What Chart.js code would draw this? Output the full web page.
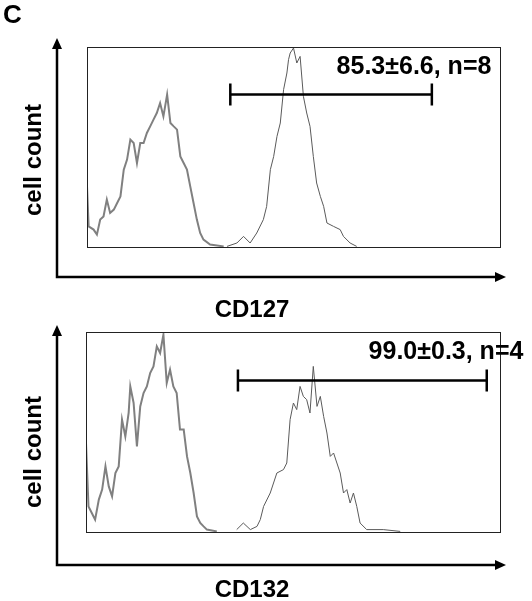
<!DOCTYPE html>
<html>
<head>
<meta charset="utf-8">
<script src="https://cdn.jsdelivr.net/npm/chart.js@4"></script>
<style>
  body { margin: 0; background: #fff; width: 532px; height: 601px; position: relative; overflow: hidden; }
  canvas { position: absolute; left: 0; }
</style>
</head>
<body>
<canvas id="top" width="532" height="325" style="top:0"></canvas>
<canvas id="bottom" width="532" height="301" style="top:300px"></canvas>
<script>
// CD127 panel: control (grey, thick) and stained (thin) histograms
const cd127CtrlX = [0,0.4,1.6,2.4,3.2,4.0,4.8,5.6,6.5,7.3,8.1,8.9,9.7,10.5,11.3,12.1,12.9,13.7,14.5,15.3,16.1,16.9,17.7,18.5,19.4,20.2,21.0,21.8,22.6,23.4,24.2,25.0,25.8,26.6,27.4,28.2,29.8,33.1];
const cd127CtrlY = [30.3,10.3,8.7,6.2,13.7,15.3,23.7,17,18.7,22,25.3,38.7,43.7,53.7,52,42,52,52,57,60.3,63.7,67,72,65.3,76.2,62,60.3,58.7,45.3,42,38.7,30.3,22,13.7,7,3.7,1.2,0.3];
const cd127StainX = [33.9,36.3,37.9,39.5,41.1,42.7,43.5,44.4,45.2,46.0,46.8,47.6,48.4,48.8,49.2,50.0,50.8,51.6,52.4,53.2,54.0,54.8,55.6,56.5,57.3,58.1,59.7,61.3,62.1,63.7,65.3];
const cd127StainY = [0.3,2,5.3,2,7,13.7,20.3,38.7,45.3,55.3,62,78.7,87,93.7,97,99.5,92,95.3,75.3,67,60.3,45.3,32,25.3,20.3,12,10.3,8.7,5.3,2,0.3];
const cd127Gate = [34.7, 83.5, 76.2];
const cd127Label = "85.3±6.6, n=8";

// CD132 panel
const cd132CtrlX = [0,0.6,1.4,2.2,3.1,3.9,4.7,5.5,6.3,7.1,7.9,8.7,9.5,10.3,10.7,11.5,12.3,13.1,13.9,14.7,15.5,16.3,17.1,17.9,18.7,19.5,20.3,21.1,21.9,22.7,23.6,24.4,25.2,26.0,26.8,27.6,28.4,29.2,31.6];
const cd132CtrlY = [44.5,12.8,9.5,6.2,16.2,21.2,32.8,22.8,17.8,29.5,32.8,56.2,47.8,59.5,72.8,64.5,42.8,62.8,69.5,72.8,79.5,82.8,92.8,89.5,98.7,74.5,81.2,72.8,69.5,51.2,51.2,37.8,29.5,19.5,7.8,4.5,2.8,1.2,0.3];
const cd132StainX = [36.4,38.0,39.7,41.3,42.1,42.9,44.5,46.1,47.7,48.5,49.3,50.1,50.9,51.7,52.5,53.3,54.1,54.9,55.8,56.6,57.4,58.2,59.0,59.8,60.6,61.4,62.2,63.0,63.8,64.6,65.4,66.2,67.8,71.8,75.9];
const cd132StainY = [1.2,4.5,1.2,2.8,6.2,12.8,19.5,29.5,31.2,34.5,56.2,64.5,61.2,72.8,67.8,66.2,59.5,82.8,62.8,67.8,57.8,49.5,37.8,39.5,34.5,29.5,19.5,21.2,14.5,19.5,12.8,4.5,1.2,1.2,0.3];
const cd132Gate = [36.7, 96.8, 75.8];
const cd132Label = "99.0±0.3, n=4";

const FAMILY = "'Liberation Sans', Arial, sans-serif";

function pts(xs, ys) { return xs.map((x, i) => ({ x: x, y: ys[i] })); }

function arrowHead(ctx, x, y, dir) {
  ctx.beginPath();
  if (dir === "up") { ctx.moveTo(x, y); ctx.lineTo(x - 5, y + 11); ctx.lineTo(x + 5, y + 11); }
  else { ctx.moveTo(x, y); ctx.lineTo(x - 11, y - 5); ctx.lineTo(x - 11, y + 5); }
  ctx.closePath();
  ctx.fill();
}

function makePanel(id, ctrlX, ctrlY, stainX, stainY, gate, label, cfg) {
  const decor = {
    id: "decor",
    afterDraw(chart) {
      const ctx = chart.ctx, a = chart.chartArea;
      const xs = chart.scales.x, ys = chart.scales.y;
      ctx.save();
      // plot box
      ctx.strokeStyle = "#222"; ctx.lineWidth = 1;
      ctx.strokeRect(a.left + 0.5, a.top + 0.5, a.right - a.left, a.bottom - a.top);
      // axis arrows
      ctx.strokeStyle = "#000"; ctx.fillStyle = "#000"; ctx.lineWidth = 2.5;
      ctx.beginPath();
      ctx.moveTo(57, cfg.axTop + 8); ctx.lineTo(57, cfg.axY); ctx.lineTo(cfg.axRight - 8, cfg.axY);
      ctx.stroke();
      arrowHead(ctx, 57, cfg.axTop, "up");
      arrowHead(ctx, cfg.axRight, cfg.axY, "right");
      // gate bar
      const gx1 = xs.getPixelForValue(gate[0]), gx2 = xs.getPixelForValue(gate[1]);
      const gy = ys.getPixelForValue(gate[2]);
      ctx.lineWidth = 2.5;
      ctx.beginPath();
      ctx.moveTo(gx1, gy); ctx.lineTo(gx2, gy);
      ctx.moveTo(gx1, gy - 11); ctx.lineTo(gx1, gy + 11);
      ctx.moveTo(gx2, gy - 11); ctx.lineTo(gx2, gy + 11);
      ctx.stroke();
      // texts
      ctx.textAlign = "center"; ctx.textBaseline = "middle";
      ctx.font = "bold 25px " + FAMILY;
      ctx.fillText(label, cfg.labelX, cfg.labelY);
      ctx.font = "bold 24px " + FAMILY;
      ctx.fillText(cfg.xTitle, 252, cfg.xTitleY);
      ctx.save();
      ctx.translate(34, cfg.yTitleY); ctx.rotate(-Math.PI / 2);
      ctx.fillText("cell count", 0, 0);
      ctx.restore();
      if (cfg.panel) {
        ctx.font = "bold 26px " + FAMILY;
        ctx.textAlign = "left"; ctx.textBaseline = "top";
        ctx.fillText(cfg.panel, 3, 3);
      }
      ctx.restore();
    }
  };
  new Chart(document.getElementById(id), {
    type: "line",
    data: {
      datasets: [
        { data: pts(ctrlX, ctrlY), borderColor: "#808080", borderWidth: 2, pointRadius: 0, tension: 0, fill: false },
        { data: pts(stainX, stainY), borderColor: "#5a5a5a", borderWidth: 1, pointRadius: 0, tension: 0, fill: false }
      ]
    },
    options: {
      responsive: false, animation: false,
      layout: { padding: cfg.pad },
      plugins: { legend: { display: false }, tooltip: { enabled: false } },
      scales: {
        x: { type: "linear", min: 0, max: 100, display: false },
        y: { min: 0, max: 100, display: false }
      }
    },
    plugins: [decor]
  });
}

makePanel("top", cd127CtrlX, cd127CtrlY, cd127StainX, cd127StainY, cd127Gate, cd127Label, {
  pad: { left: 87, right: 32, top: 47, bottom: 78 },
  axTop: 38, axY: 277, axRight: 506, labelX: 414, labelY: 67, xTitle: "CD127", xTitleY: 310, yTitleY: 160, panel: "C"
});
makePanel("bottom", cd132CtrlX, cd132CtrlY, cd132StainX, cd132StainY, cd132Gate, cd132Label, {
  pad: { left: 86, right: 32, top: 32, bottom: 69 },
  axTop: 25, axY: 265, axRight: 506, labelX: 446, labelY: 52, xTitle: "CD132", xTitleY: 290, yTitleY: 152, panel: null
});
</script>
</body>
</html>
